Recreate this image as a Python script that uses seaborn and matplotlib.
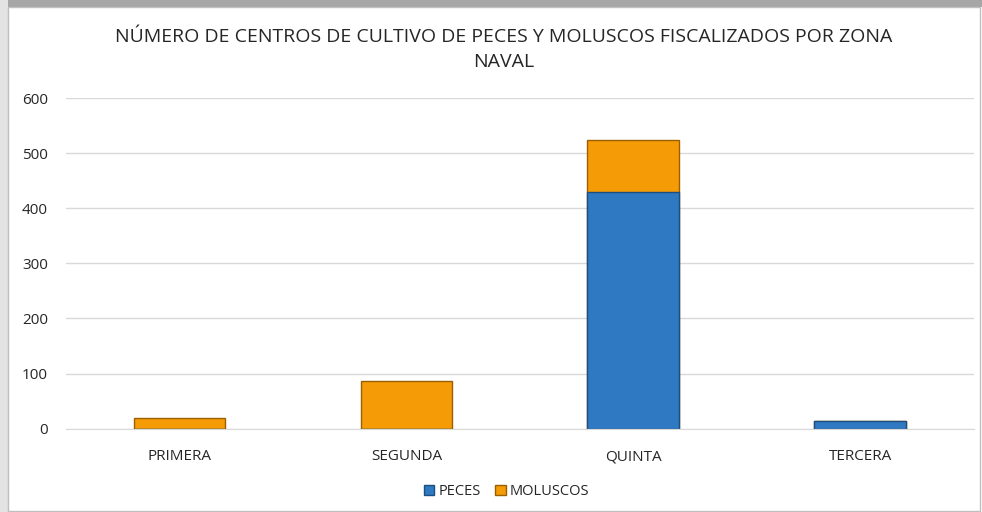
import pandas as pd
import matplotlib.pyplot as plt
import seaborn as sns
from matplotlib.patches import Patch, Rectangle

# Data
zonas = ["PRIMERA", "SEGUNDA", "QUINTA", "TERCERA"]
peces = [0, 0, 430, 14]
moluscos = [20, 87, 95, 0]

df = pd.DataFrame({"zona": zonas, "peces": peces, "moluscos": moluscos})
df["total"] = df["peces"] + df["moluscos"]

blue = "#2F78C2"
orange = "#F59B05"

sns.set_style("white")
plt.rcParams["font.family"] = ["Open Sans", "DejaVu Sans"]

fig = plt.figure(figsize=(9.82, 5.12), dpi=100)
ax = fig.add_axes([0.0672, 0.163, 0.9246, 0.645])

# stacked bars: total in orange, peces drawn over it
sns.barplot(data=df, x="zona", y="total", color=orange, width=0.405,
            edgecolor="#9A5F00", linewidth=1.0, saturation=1, ax=ax)
sns.barplot(data=df, x="zona", y="peces", color=blue, width=0.405,
            edgecolor="#1D4E80", linewidth=1.0, saturation=1, ax=ax)

ax.set_ylim(0, 600)
ax.set_yticks(range(0, 601, 100))
ax.yaxis.grid(True, color="#D9D9D9", linewidth=1)
ax.set_axisbelow(True)
for s in ["top", "right", "left"]:
    ax.spines[s].set_visible(False)
ax.spines["bottom"].set_color("#D9D9D9")
ax.set_xlabel("")
ax.set_ylabel("")
ax.tick_params(axis="both", length=0, labelsize=11, colors="#262626")
ax.tick_params(axis="x", pad=15)
ax.tick_params(axis="y", pad=13)

fig.text(0.513, 0.928, "NÚMERO DE CENTROS DE CULTIVO DE PECES Y MOLUSCOS FISCALIZADOS POR ZONA",
         ha="center", va="center", fontsize=14, color="#262626")
fig.text(0.513, 0.878, "NAVAL", ha="center", va="center", fontsize=14, color="#262626")

handles = [Patch(facecolor=blue, edgecolor="#1D4E80", label="PECES"),
           Patch(facecolor=orange, edgecolor="#9A5F00", label="MOLUSCOS")]
fig.legend(handles=handles, loc="center", bbox_to_anchor=(0.516, 0.04), ncol=2,
           frameon=False, fontsize=10.5, handlelength=0.7, handleheight=0.7,
           handletextpad=0.3, columnspacing=1.0, labelcolor="#262626")

# chart frame with a light shadow on top and left
fig.patches.append(Rectangle((0, 0.986), 1, 0.014, transform=fig.transFigure,
                             facecolor="#A6A6A6", edgecolor="none"))
fig.patches.append(Rectangle((0, 0), 0.008, 1, transform=fig.transFigure,
                             facecolor="#E3E3E3", edgecolor="none"))
fig.patches.append(Rectangle((0.008, 0.002), 0.99, 0.984, transform=fig.transFigure,
                             fill=False, edgecolor="#BFBFBF", linewidth=1))

plt.savefig("out.png", dpi=100)
